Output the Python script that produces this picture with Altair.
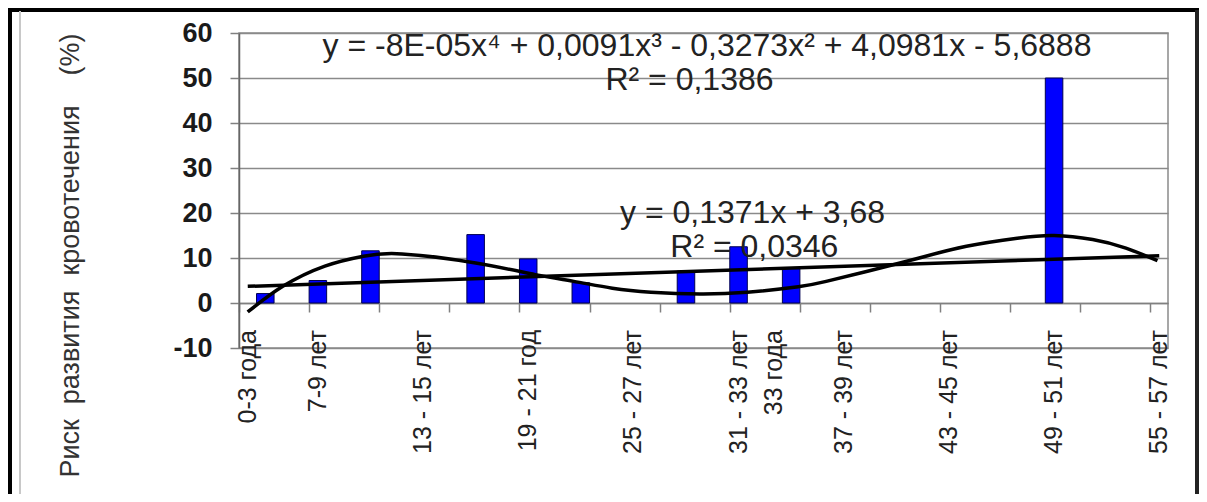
import altair as alt
import pandas as pd

# ---- data ----
bar_cat = [2, 5, 8, 14, 17, 20, 26, 29, 32, 47]
bar_val = [2.1, 5.0, 11.6, 15.2, 9.8, 4.5, 7.1, 12.5, 7.8, 50.0]

label_cat = [1, 5, 11, 17, 23, 29, 31, 35, 41, 47, 53]
label_txt = ["0-3 года", "7-9 лет", "13 - 15 лет", "19 - 21 год", "25 - 27 лет",
             "31 - 33 лет", "33 года", "37 - 39 лет", "43 - 45 лет", "49 - 51 лет",
             "55 - 57 лет"]

poly_cat = [1, 3.0, 5.4, 7.6, 9.8, 14.0, 17.4, 19.6, 21.8, 24.0, 26.8, 29.5,
            32.4, 34.0, 36.3, 39.2, 42.0, 44.9, 47.0, 49.2, 51.1, 52.9]
poly_val = [-2.0, 3.7, 8.2, 10.4, 10.9, 8.9, 6.3, 4.8, 3.3, 2.4, 2.0, 2.4,
            3.6, 4.8, 7.0, 9.9, 12.6, 14.4, 15.0, 14.1, 12.2, 9.4]

lin_cat = [1, 53]
lin_val = [3.7, 10.5]

ann_txt = ["y = -8E-05x⁴ + 0,0091x³ - 0,3273x² + 4,0981x - 5,6888",
           "R² = 0,1386", "y = 0,1371x + 3,68", "R² = 0,0346"]
ann_cat = [27.2, 26.2, 29.8, 29.9]
ann_val = [57.2, 49.6, 19.9, 12.5]

y_ticks = [-10, 0, 10, 20, 30, 40, 50, 60]
n_cat = 53
tick_bounds = [k + 0.5 for k in range(n_cat + 1)]

FONT = "Liberation Sans"
W, H = 929, 315

bars = pd.DataFrame({"c": bar_cat, "v": bar_val})
labels = pd.DataFrame({"c": label_cat, "t": label_txt})
poly = pd.DataFrame({"c": poly_cat, "v": poly_val})
lin = pd.DataFrame({"c": lin_cat, "v": lin_val})
ann = pd.DataFrame({"c": ann_cat, "v": ann_val, "t": ann_txt})

xs = alt.Scale(domain=[0.5, n_cat + 0.5], nice=False, zero=False)
ys = alt.Scale(domain=[-10, 60], nice=False, zero=False)

x_axis = alt.Axis(values=tick_bounds, labels=False, grid=False, title=None,
                  tickSize=9, tickColor="#808080", tickWidth=1.5,
                  domainColor="#808080", domainWidth=1.5, offset=-45)
y_axis = alt.Axis(values=y_ticks, grid=True, gridColor="#8a8a8a", gridWidth=1.5,
                  tickSize=9, tickColor="#808080", tickWidth=1.5,
                  domainColor="#666666", domainWidth=1.5,
                  labelExpr="'' + datum.value",
                  labelFont=FONT, labelFontSize=27, labelFontWeight="bold",
                  labelColor="#1a1a1a", labelPadding=18,
                  title="Риск\u00a0\u00a0развития\u00a0\u00a0кровотечения\u00a0\u00a0\u00a0\u00a0(%)",
                  titleFont=FONT, titleFontSize=27, titleFontWeight="normal",
                  titleColor="#333333", titleAngle=270, titleX=-169, titleY=222,
                  titleAlign="center", titleBaseline="middle")

bar_layer = alt.Chart(bars).transform_calculate(
    lo="datum.c - 0.5", hi="datum.c + 0.5"
).mark_rect(color="#0000ff", stroke="#000050", strokeWidth=1).encode(
    x=alt.X("lo:Q", scale=xs, axis=x_axis),
    x2="hi:Q",
    y=alt.Y("v:Q", scale=ys, axis=y_axis),
    y2=alt.datum(0),
)

poly_layer = alt.Chart(poly).mark_line(color="black", strokeWidth=3.5,
                                       interpolate="natural").encode(
    x=alt.X("c:Q", scale=xs), y=alt.Y("v:Q", scale=ys))

lin_layer = alt.Chart(lin).mark_line(color="black", strokeWidth=3.5).encode(
    x=alt.X("c:Q", scale=xs), y=alt.Y("v:Q", scale=ys))

label_layer = alt.Chart(labels).mark_text(
    angle=270, align="right", baseline="middle", font=FONT, fontSize=25,
    color="#222222").encode(
    x=alt.X("c:Q", scale=xs), y=alt.datum(-6, scale=ys), text="t:N")

ann_layer = alt.Chart(ann).mark_text(
    align="center", baseline="middle", font=FONT, fontSize=32,
    color="#222222").encode(
    x=alt.X("c:Q", scale=xs), y=alt.Y("v:Q", scale=ys), text="t:N")

# decorative page frame (as in the scanned figure)
frame_top = alt.Chart(bars).mark_rule(color="black", strokeWidth=3).encode(
    x=alt.value(-231), x2=alt.value(961), y=alt.value(-23))
frame_left = alt.Chart(bars).mark_rule(color="black", strokeWidth=3).encode(
    x=alt.value(-229), y=alt.value(-23), y2=alt.value(470))
frame_right = alt.Chart(bars).mark_rule(color="#222222", strokeWidth=3).encode(
    x=alt.value(958), y=alt.value(-23), y2=alt.value(470))
frame_grey = alt.Chart(bars).mark_rule(color="#c8c8c8", strokeWidth=2).encode(
    x=alt.value(-219), y=alt.value(-22), y2=alt.value(470))

chart = alt.layer(
    frame_top, frame_left, frame_right, frame_grey,
    bar_layer, poly_layer, lin_layer, label_layer, ann_layer
).properties(
    width=W, height=H,
    autosize=alt.AutoSizeParams(type="none"),
    padding={"left": 231, "top": 25, "right": 31, "bottom": 146},
    background="white",
).configure_view(stroke="#8a8a8a", strokeWidth=1.5)

chart.save("out.html", embed_options={"renderer": "svg", "actions": False})
